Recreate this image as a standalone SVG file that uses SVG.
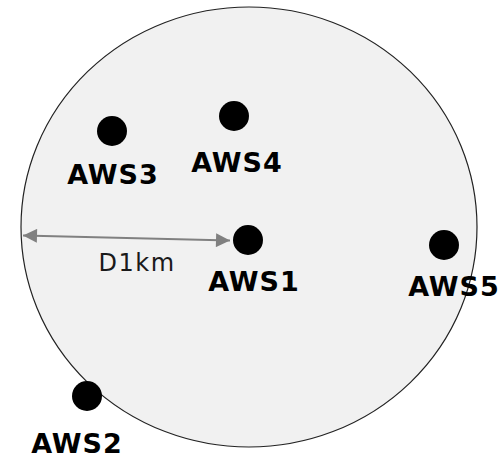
<svg xmlns="http://www.w3.org/2000/svg" width="499" height="464" viewBox="0 0 499 464">
<style>
.lbl{font-family:"DejaVu Sans",Verdana,sans-serif;font-weight:bold;font-size:27px;letter-spacing:1px;fill:#000;text-anchor:middle}
.dot{fill:#000}
.dim{font-family:"DejaVu Sans",Verdana,sans-serif;font-size:24px;letter-spacing:1.5px;fill:#1a1a1a;text-anchor:middle}
</style>
<defs>
<marker id="ah" viewBox="0 0 10 10" refX="10" refY="5" markerWidth="7.5" markerHeight="7" markerUnits="strokeWidth" orient="auto-start-reverse">
<path d="M0,0 L10,5 L0,10 z" fill="#808080"/>
</marker>
</defs>
<g id="area"><ellipse cx="249" cy="227" rx="228" ry="220" fill="#f1f1f1" stroke="#222" stroke-width="1.2"/></g>
<g id="connectors">
<line x1="23" y1="235.5" x2="230" y2="240.5" stroke="#808080" stroke-width="2" marker-start="url(#ah)" marker-end="url(#ah)"/>
<text class="dim" x="137" y="271">D1km</text>
</g>
<g id="AWS1"><circle class="dot" cx="248" cy="240" r="15"/><text class="lbl" x="254" y="290.5">AWS1</text></g>
<g id="AWS2"><circle class="dot" cx="87" cy="396" r="15"/><text class="lbl" x="77" y="453">AWS2</text></g>
<g id="AWS3"><circle class="dot" cx="112" cy="131" r="15"/><text class="lbl" x="113" y="184">AWS3</text></g>
<g id="AWS4"><circle class="dot" cx="234" cy="116" r="15"/><text class="lbl" x="237" y="171.5">AWS4</text></g>
<g id="AWS5"><circle class="dot" cx="444" cy="245" r="15"/><text class="lbl" x="454" y="296">AWS5</text></g>
</svg>
